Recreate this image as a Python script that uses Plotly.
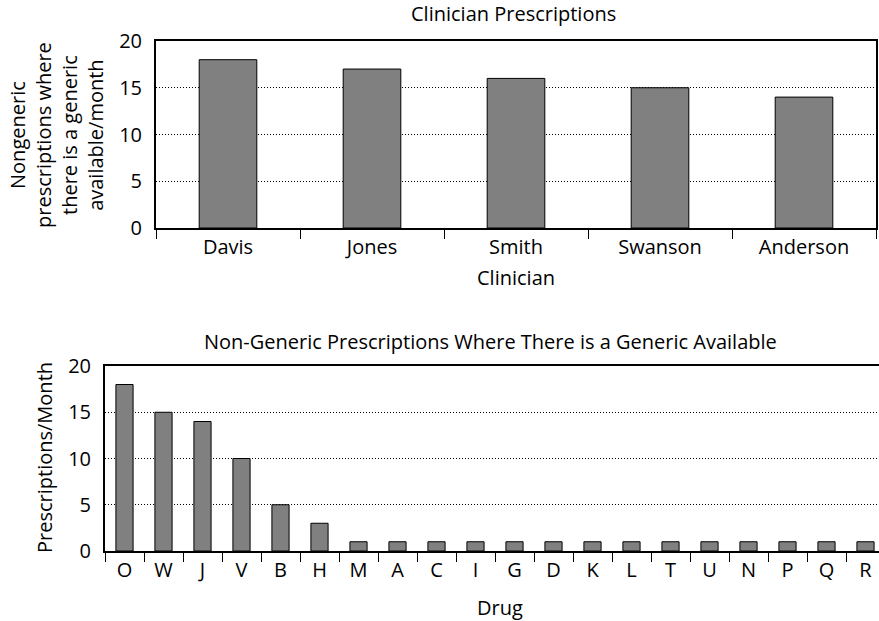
import plotly.graph_objects as go

# Chart data
clinicians = ["Davis", "Jones", "Smith", "Swanson", "Anderson"]
clinician_counts = [18, 17, 16, 15, 14]

drugs = ["O", "W", "J", "V", "B", "H", "M", "A", "C", "I",
         "G", "D", "K", "L", "T", "U", "N", "P", "Q", "R"]
drug_counts = [18, 15, 14, 10, 5, 3, 1, 1, 1, 1,
               1, 1, 1, 1, 1, 1, 1, 1, 1, 1]

y_ticks = [0, 5, 10, 15, 20]

W, H = 879, 621
FONT = "Open Sans"
FS = 20
BAR_FILL = "#808080"


def px_x(v):
    return v / W


def px_y(v):
    return 1 - v / H


fig = go.Figure()

fig.add_trace(go.Bar(
    x=clinicians, y=clinician_counts, width=0.4,
    marker=dict(color=BAR_FILL, line=dict(color="black", width=1)),
    xaxis="x", yaxis="y", showlegend=False,
))
fig.add_trace(go.Bar(
    x=drugs, y=drug_counts, width=0.44,
    marker=dict(color=BAR_FILL, line=dict(color="black", width=1)),
    xaxis="x2", yaxis="y2", showlegend=False,
))

tick_font = dict(family=FONT, size=FS, color="black")

common_x = dict(
    type="category", showline=True, linecolor="black", linewidth=2,
    ticks="outside", tickson="boundaries", ticklen=9, tickcolor="black",
    tickwidth=1, showgrid=False, tickfont=tick_font, fixedrange=True,
    automargin=False,
)
common_y = dict(
    range=[0, 20], tickvals=y_ticks, showline=True, linecolor="black",
    linewidth=2, ticks="", showgrid=True, gridcolor="black", gridwidth=1,
    griddash="1px,2px", tickfont=tick_font, zeroline=False,
    fixedrange=True, ticklabelstandoff=8, automargin=False,
)

fig.update_layout(
    width=W, height=H,
    margin=dict(l=0, r=0, t=0, b=0, pad=0),
    paper_bgcolor="white", plot_bgcolor="white",
    font=dict(family=FONT, size=FS, color="black"),
    xaxis=dict(common_x, domain=[px_x(156), px_x(876)], anchor="y",
               range=[-0.5, 4.5], mirror=True),
    yaxis=dict(common_y, domain=[px_y(228), px_y(41)], anchor="x",
               mirror=True),
    xaxis2=dict(common_x, domain=[px_x(105), 1], anchor="y2",
                range=[-0.5, -0.5 + (W - 105) / 39.0], mirror=True),
    yaxis2=dict(common_y, domain=[px_y(551), px_y(366)], anchor="x2",
                mirror=False),
)


def label(text, x, y, angle=0, size=FS):
    return dict(text=text, x=px_x(x), y=px_y(y), xref="paper",
                yref="paper", showarrow=False, textangle=angle,
                xanchor="center", yanchor="middle",
                font=dict(family=FONT, size=size, color="black"))


annotations = [
    label("Clinician Prescriptions", 513, 14),
    label("Non-Generic Prescriptions Where There is a Generic Available",
          490, 341),
    label("Clinician", 516, 277),
    label("Drug", 500, 607),
    label("Nongeneric<br>prescriptions where<br>there is a generic<br>available/month",
          57, 135, angle=-90, size=20),
    label("Prescriptions/Month", 45, 458, angle=-90, size=20),
]
fig.update_layout(annotations=annotations)

fig.write_html("out.html")
